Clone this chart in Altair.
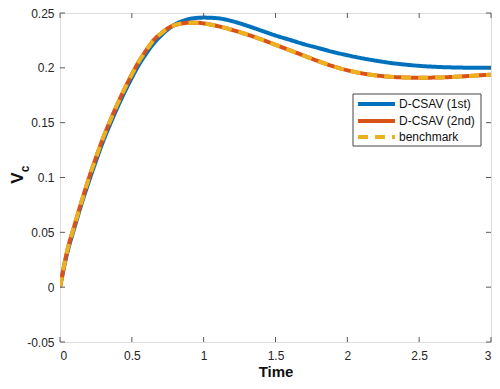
import altair as alt
import pandas as pd

# ---- data ----
series_names = ["D-CSAV (1st)", "D-CSAV (2nd)", "benchmark"]
colors = ["#0072BD", "#D95319", "#EDB120"]
dashes = [[1, 0], [1, 0], [10, 7]]

t = [0, 0.05, 0.1, 0.15, 0.2, 0.25, 0.3, 0.35, 0.4, 0.45, 0.5, 0.55, 0.6, 0.65,
     0.7, 0.75, 0.8, 0.85, 0.9, 0.95, 1.0, 1.1, 1.2, 1.3, 1.4, 1.5, 1.6, 1.7,
     1.8, 1.9, 2.0, 2.1, 2.2, 2.3, 2.4, 2.5, 2.6, 2.7, 2.8, 2.9, 3.0]

vc_1st = [0, 0.031, 0.054, 0.076, 0.096, 0.115, 0.133, 0.149, 0.164, 0.178, 0.191,
          0.203, 0.213, 0.222, 0.229, 0.235, 0.2395, 0.2425, 0.2445, 0.2455, 0.2458,
          0.2452, 0.2425, 0.2385, 0.2340, 0.2295, 0.2255, 0.2215, 0.2180, 0.2145,
          0.2115, 0.2088, 0.2065, 0.2045, 0.2030, 0.2018, 0.2010, 0.2005, 0.2002,
          0.2000, 0.2000]

vc_2nd = [0, 0.033, 0.056, 0.078, 0.099, 0.118, 0.136, 0.152, 0.167, 0.181, 0.194,
          0.206, 0.216, 0.225, 0.231, 0.236, 0.239, 0.2405, 0.2412, 0.2412, 0.2405,
          0.2380, 0.2345, 0.2305, 0.2260, 0.2210, 0.2160, 0.2110, 0.2060, 0.2015,
          0.1978, 0.1950, 0.1931, 0.1918, 0.1912, 0.1910, 0.1911, 0.1915, 0.1922,
          0.1930, 0.1938]

vc_bench = [0, 0.033, 0.056, 0.078, 0.099, 0.118, 0.136, 0.152, 0.167, 0.181, 0.194,
            0.206, 0.216, 0.225, 0.231, 0.236, 0.239, 0.2405, 0.2412, 0.2412, 0.2405,
            0.2380, 0.2345, 0.2305, 0.2260, 0.2210, 0.2160, 0.2110, 0.2060, 0.2015,
            0.1978, 0.1950, 0.1931, 0.1918, 0.1912, 0.1910, 0.1911, 0.1915, 0.1922,
            0.1930, 0.1938]

x_ticks = [0, 0.5, 1, 1.5, 2, 2.5, 3]
y_ticks = [-0.05, 0, 0.05, 0.1, 0.15, 0.2, 0.25]

# ---- build table ----
rows = []
for name, vals in zip(series_names, [vc_1st, vc_2nd, vc_bench]):
    for ti, v in zip(t, vals):
        rows.append({"Time": ti, "Vc": v, "series": name})
df = pd.DataFrame(rows)

W, H = 431, 329
FONT = "Liberation Sans"
AXIS_COLOR = "#5a5a5a"

xscale = alt.Scale(domain=[0, 3], nice=False, zero=False)
yscale = alt.Scale(domain=[-0.05, 0.25], nice=False, zero=False)

lines = alt.Chart(df).mark_line(strokeWidth=4, interpolate="monotone", clip=True).encode(
    x=alt.X("Time:Q", scale=xscale,
            axis=alt.Axis(values=x_ticks, title="Time", ticks=False, domain=False, grid=False,
                          labelPadding=8, labelFontSize=12, labelColor="#262626",
                          labelFont=FONT, labelExpr="'' + datum.value",
                          titleFont=FONT, titleFontSize=15, titleFontWeight="bold",
                          titleColor="#111", titlePadding=3)),
    y=alt.Y("Vc:Q", scale=yscale,
            axis=alt.Axis(values=y_ticks, title=None, ticks=False, domain=False, grid=False,
                          labelPadding=6, labelFontSize=12, labelColor="#262626",
                          labelFont=FONT, labelExpr="'' + datum.value")),
    color=alt.Color("series:N", sort=series_names,
                    scale=alt.Scale(domain=series_names, range=colors), legend=None),
    strokeDash=alt.StrokeDash("series:N", sort=series_names,
                              scale=alt.Scale(domain=series_names, range=dashes),
                              legend=None),
    order=alt.Order("series:N"),
)

xt = pd.DataFrame({"v": x_ticks})
yt = pd.DataFrame({"v": y_ticks})

tick_bottom = alt.Chart(xt).mark_rule(color=AXIS_COLOR).encode(
    x=alt.X("v:Q", scale=xscale), y=alt.value(H), y2=alt.value(H - 5))
tick_top = alt.Chart(xt).mark_rule(color=AXIS_COLOR).encode(
    x=alt.X("v:Q", scale=xscale), y=alt.value(0), y2=alt.value(5))
tick_left = alt.Chart(yt).mark_rule(color=AXIS_COLOR).encode(
    y=alt.Y("v:Q", scale=yscale), x=alt.value(0), x2=alt.value(5))
tick_right = alt.Chart(yt).mark_rule(color=AXIS_COLOR).encode(
    y=alt.Y("v:Q", scale=yscale), x=alt.value(W), x2=alt.value(W - 5))

# y title  V_c
y_V = alt.Chart(pd.DataFrame({"t": ["V"]})).mark_text(
    font=FONT, fontSize=17, fontWeight="bold", angle=270, color="#111",
    align="center", baseline="middle").encode(
    text="t:N", x=alt.value(-42), y=alt.value(165))
y_c = alt.Chart(pd.DataFrame({"t": ["c"]})).mark_text(
    font=FONT, fontSize=12, fontWeight="bold", angle=270, color="#111",
    align="center", baseline="middle").encode(
    text="t:N", x=alt.value(-35), y=alt.value(156))

# manual legend
LX0, LX1, LY0, LY1 = W - 138, W - 10, 81, 133
legend_box = alt.Chart(pd.DataFrame({"a": [0]})).mark_rect(
    fill="white", stroke="#444", strokeWidth=1).encode(
    x=alt.value(LX0), x2=alt.value(LX1), y=alt.value(LY0), y2=alt.value(LY1))

row_y = [LY0 + 10, LY0 + 27, LY0 + 43]
legend_layers = []
for name, col, dsh, ry in zip(series_names, colors, dashes, row_y):
    d = pd.DataFrame({"name": [name]})
    legend_layers.append(
        alt.Chart(d).mark_rule(color=col, strokeWidth=4, strokeDash=dsh).encode(
            x=alt.value(LX0 + 5), x2=alt.value(LX0 + 42), y=alt.value(ry)))
    legend_layers.append(
        alt.Chart(d).mark_text(font=FONT, fontSize=12, color="#111", align="left",
                               baseline="middle").encode(
            text="name:N", x=alt.value(LX0 + 46), y=alt.value(ry)))

chart = alt.layer(lines, tick_bottom, tick_top, tick_left, tick_right, y_V, y_c,
                  legend_box, *legend_layers).properties(
    width=W, height=H,
    autosize=alt.AutoSizeParams(type="none"),
    padding={"left": 52, "top": 5, "right": 1, "bottom": 39},
).configure_view(stroke=AXIS_COLOR, strokeWidth=1).configure(background="white")

chart.save("out.html", embed_options={"renderer": "svg", "actions": False})
